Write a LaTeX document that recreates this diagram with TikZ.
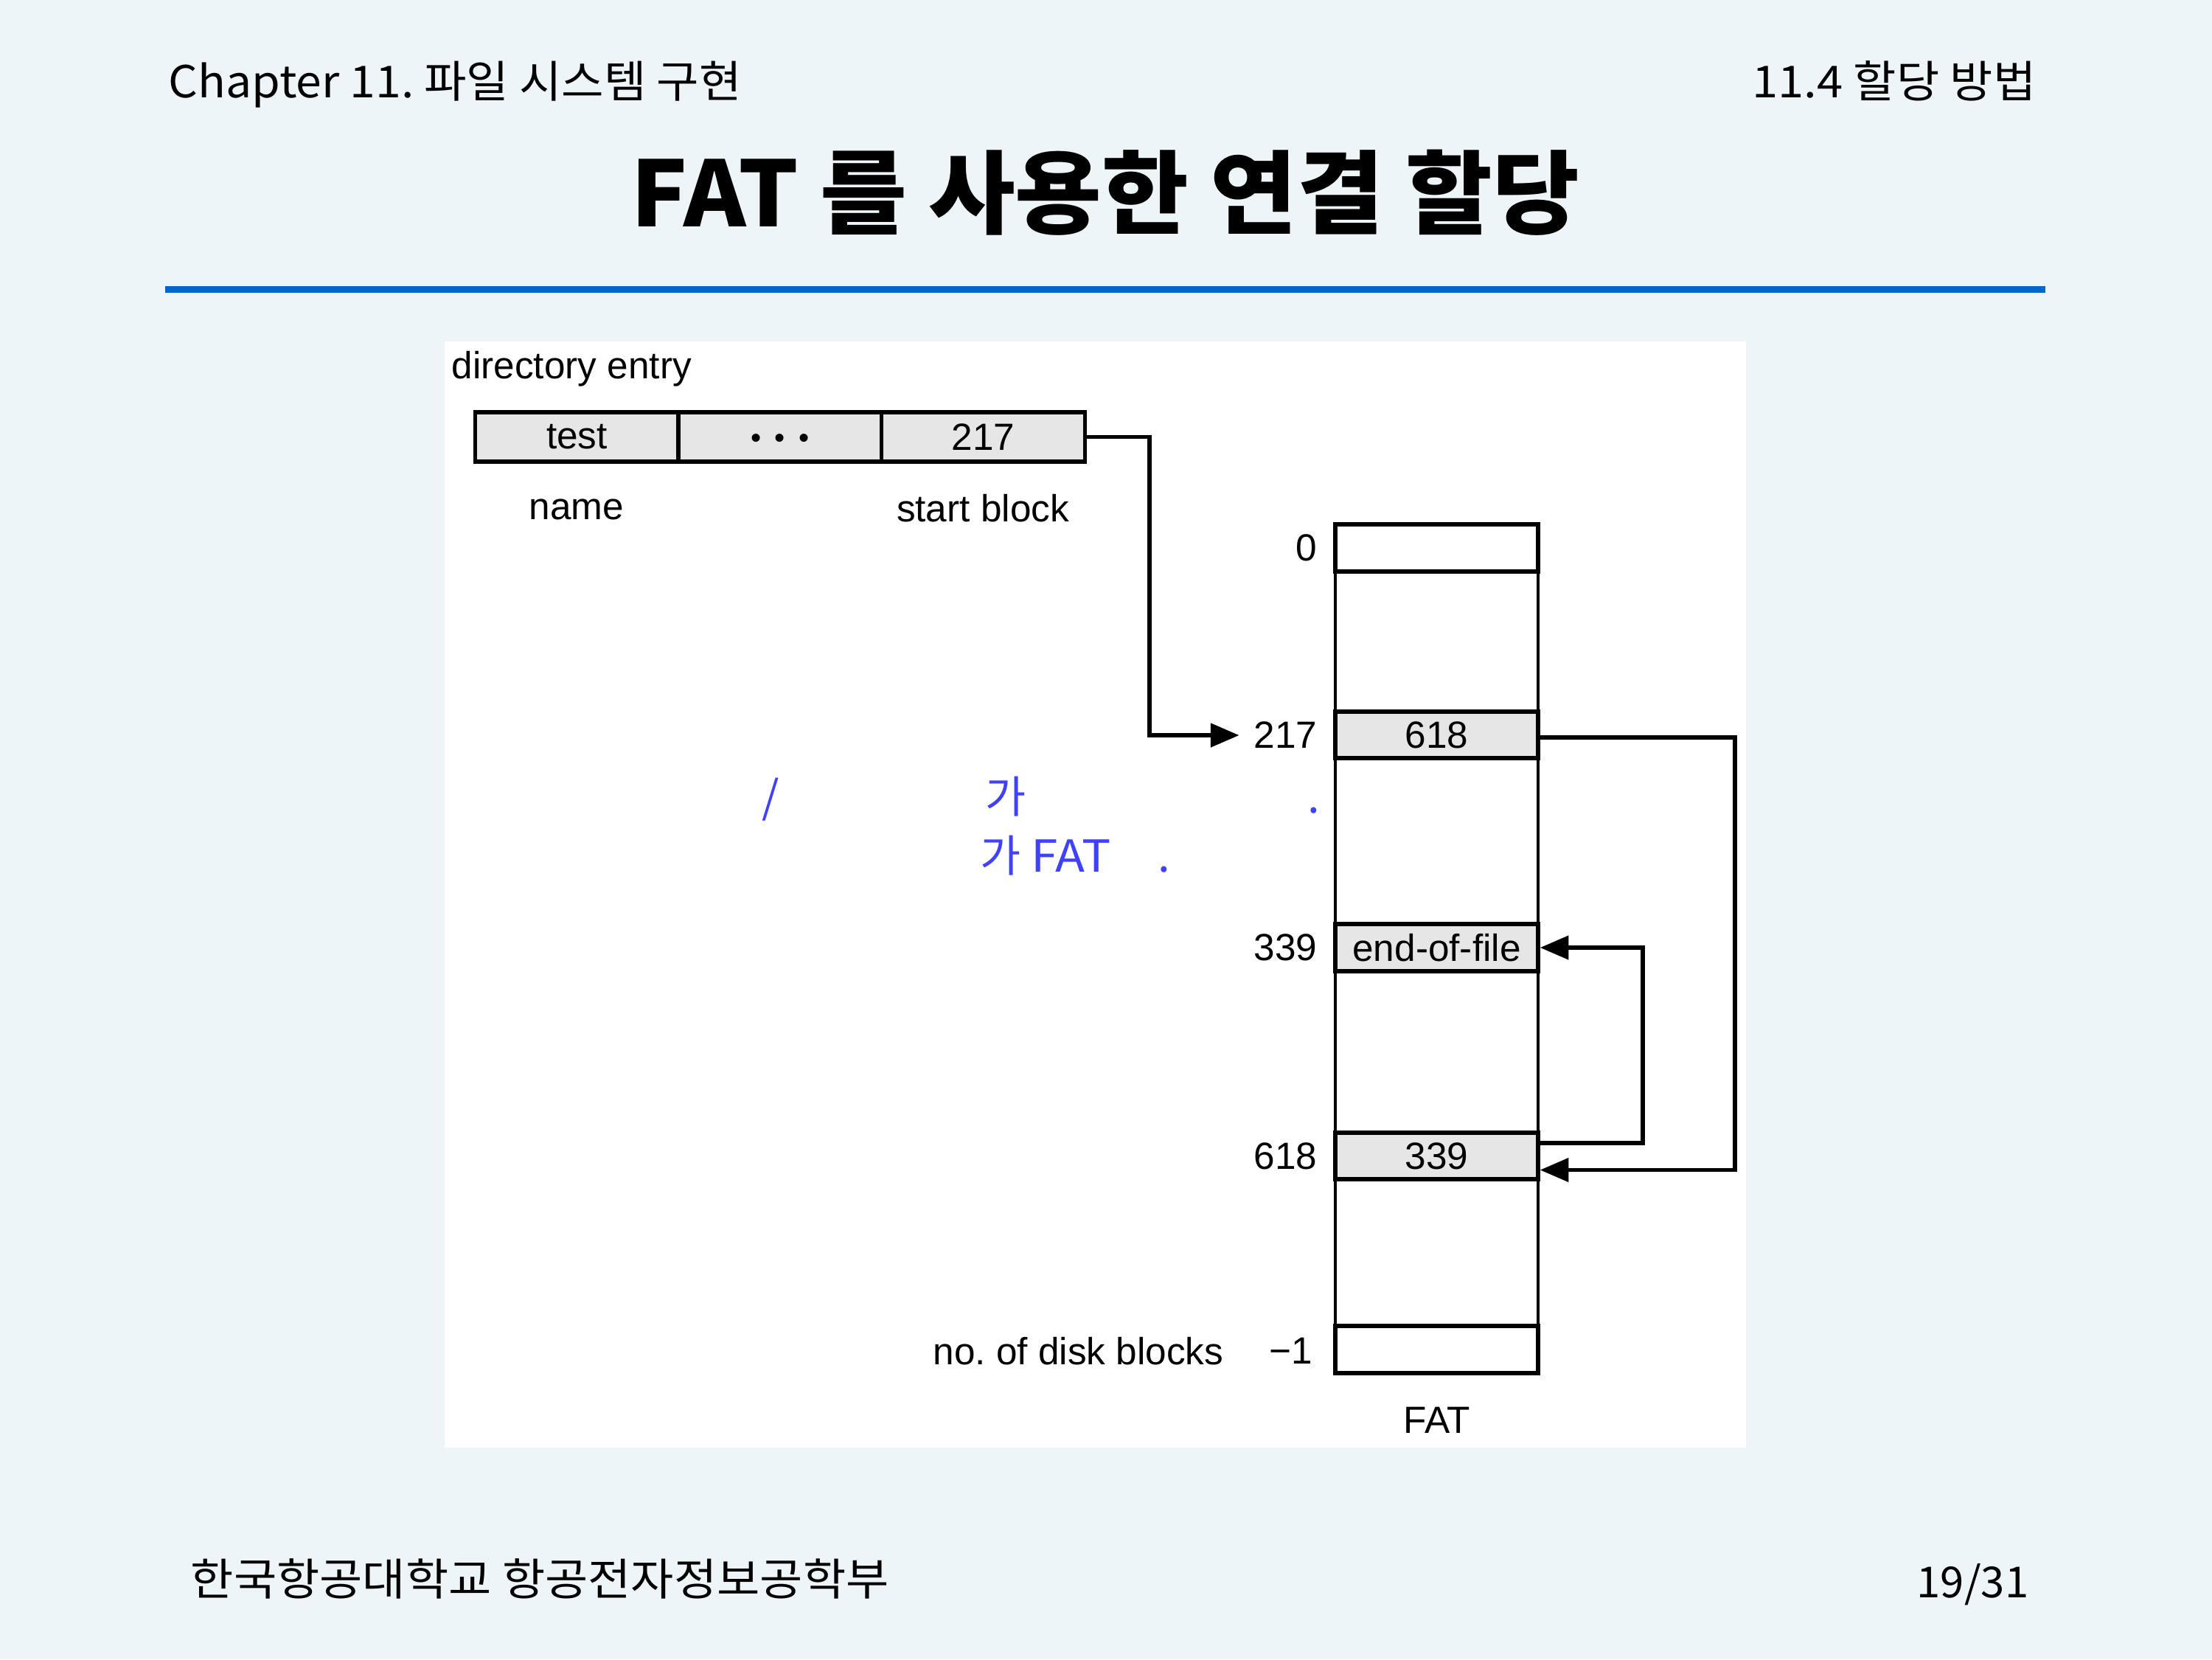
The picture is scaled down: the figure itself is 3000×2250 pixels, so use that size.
\documentclass[tikz,border=0pt]{standalone}
\usepackage{fontspec}
\setmainfont{Liberation Sans}
\newfontfamily\kr{Noto Sans CJK KR}
\usetikzlibrary{arrows.meta,calc}
\frenchspacing
\definecolor{pagebg}{RGB}{238,245,249}
\definecolor{rulecol}{RGB}{0,102,204}
\definecolor{cellgray}{RGB}{230,230,230}
\definecolor{noteblue}{RGB}{64,64,255}
\tikzset{
  dfont/.style={font=\fontsize{14.6}{17}\selectfont},
  dcell/.style={draw, line width=1.6pt, fill=cellgray, minimum width=2.76cm, minimum height=0.67cm, inner sep=0pt, dfont},
  frow/.style={draw, line width=1.5pt, fill=white, minimum width=2.75cm, minimum height=0.64cm, inner sep=0pt, dfont},
  frowg/.style={frow, fill=cellgray},
  rowlabel/.style={anchor=east, inner sep=0pt, dfont},
  plain/.style={inner sep=0pt, dfont},
  conn/.style={line width=1.6pt},
  arr/.style={conn, -{Triangle[length=11pt,width=9pt]}},
  note/.style={inner sep=0pt, text=noteblue, font=\kr\fontsize{17}{19}\selectfont},
  hdr/.style={inner sep=0pt, font=\kr\fontsize{17}{20}\selectfont}
}
\begin{document}
\begin{tikzpicture}[x=0.01cm,y=-0.01cm]
\useasboundingbox (0,0) rectangle (3000,2250);
\fill[pagebg] (0,0) rectangle (3000,2250);
% header
\node[hdr, anchor=base west] (chap) at (228,132) {\scalebox{1.045}[1]{Chapter 11. 파일 시스템 구현}};
\node[hdr, anchor=base east] (sect) at (2762,132) {\scalebox{1.06}[1]{11.4 할당 방법}};
\node[inner sep=0pt, anchor=base] (title) at (1499,307) {\scalebox{1.04}[1]{\kr\bfseries\fontsize{35}{40}\selectfont FAT 를 사용한 연결 할당}};
\fill[rulecol] (224,388) rectangle (2774,397);
% panel
\fill[white] (603,463) rectangle (2368,1963);
% directory entry
\node[plain, anchor=west] (dirlbl) at (612,500) {directory entry};
\node[dcell] (d1) at (782.5,592.5) {test};
\node[dcell] (d2) at (1058,592.5) {\raisebox{-4.2pt}[0pt][0pt]{\fontsize{11.5}{12}\selectfont •\hspace{5.2pt}•\hspace{5.2pt}•}};
\node[dcell] (d3) at (1333.5,592.5) {217};
\node[plain] (namelbl) at (782,691) {name};
\node[plain] (startlbl) at (1333,689) {start block};
% FAT column
\draw[line width=1pt] (1811,711) -- (1811,1862);
\draw[line width=1pt] (2086,711) -- (2086,1862);
\node[frow] (f0) at (1948.5,743) {};
\node[frowg, minimum height=0.63cm] (f217) at (1948.5,996.5) {618};
\node[frowg] (f339) at (1948.5,1285) {end-of-file};
\node[frowg, minimum height=0.63cm] (f618) at (1948.5,1567.5) {339};
\node[frow] (fend) at (1948.5,1830) {};
\node[rowlabel] (l0) at (1787,743) {0};
\node[rowlabel] (l217) at (1787,997) {217};
\node[rowlabel] (l339) at (1787,1285) {339};
\node[rowlabel] (l618) at (1787,1568) {618};
\node[rowlabel] (lend) at (1781,1832) {−1};
\node[rowlabel] (ndb) at (1660,1832) {no. of disk blocks};
\node[plain] (fatlbl) at (1949,1926) {FAT};
% connectors
\coordinate (b1) at (1559,594);
\coordinate (b2) at (2353,1000);
\coordinate (b3) at (2228,1550);
\draw[arr, shorten >=5.5pt] (d3.east) -| (b1 |- l217.west) -- (l217.west);
\draw[arr] (f217.east |- b2) -- (b2) |- ($(f618.east)+(0,19)$);
\draw[arr] (f618.east |- b3) -- (b3) |- (f339.east);
% blue notes
\node[note, anchor=base] (n1) at (1045,1102) {/};
\node[note, anchor=base] (n2) at (1364,1102) {가};
\node[note, anchor=base] (n3) at (1782,1102) {.};
\node[note, anchor=base west] (n4) at (1329,1182) {가 \scalebox{1.1}[1]{FAT}};
\node[note, anchor=base] (n5) at (1579,1182) {.};
% footer
\node[hdr, anchor=base west] (foot) at (258,2163) {\scalebox{1.06}[1]{한국항공대학교 항공전자정보공학부}};
\node[hdr, anchor=base east, font=\kr\fontsize{16.5}{19}\selectfont] (page) at (2752,2166) {19/31};
\end{tikzpicture}
\end{document}
